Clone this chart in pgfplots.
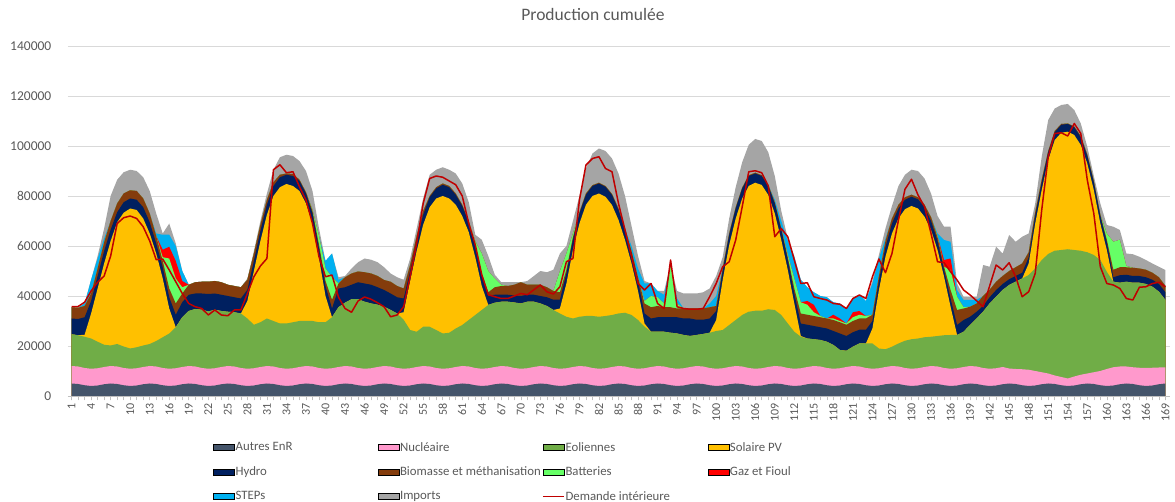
\documentclass[border=0pt]{standalone}
\usepackage{pgfplots}
\usepackage{pgfplotstable}
\pgfplotsset{compat=1.18}
\usepackage{fontspec}
\setmainfont{Carlito}
\definecolor{cA}{HTML}{44546A}
\definecolor{cN}{HTML}{FF99CC}
\definecolor{cW}{HTML}{70AD47}
\definecolor{cS}{HTML}{FFC000}
\definecolor{cH}{HTML}{002060}
\definecolor{cB}{HTML}{843C0C}
\definecolor{cBa}{HTML}{66FF66}
\definecolor{cG}{HTML}{FF0000}
\definecolor{cSt}{HTML}{00B0F0}
\definecolor{cI}{HTML}{A5A5A5}
\definecolor{cD}{HTML}{C00000}
\definecolor{cTxt}{HTML}{595959}
\definecolor{cGrid}{HTML}{D9D9D9}
\definecolor{cAx}{HTML}{BFBFBF}
% cumulative tops of each layer (MW)
\pgfplotstableread{
h a n w s hy b ba g st im d
1 5000 12000 24700 24700 31000 35500 35500 35500 35500 35500 35700
2 4800 11800 24300 24300 30800 35300 35300 35300 35300 35300 35800
3 4300 11200 23700 24500 31500 36000 36000 36000 37000 37000 37500
4 4000 10900 23000 33000 38000 41000 41000 41000 46500 46500 42000
5 4200 11100 21700 43000 48000 51000 51000 51000 55000 56000 45500
6 4700 11600 20500 53000 58000 61500 61500 61500 63000 67000 48000
7 5000 12000 20200 62000 66500 70000 70000 70000 70000 80000 56000
8 4800 11800 20800 69500 73500 77000 77000 77000 77000 86500 69000
9 4300 11200 19800 73300 77500 81000 81000 81000 81000 89500 71300
10 4000 10900 19000 75000 79000 82300 82300 82300 82300 90500 72000
11 4200 11100 19500 74400 78500 82000 82000 82000 82000 90000 71000
12 4700 11600 20200 71000 75500 79000 79000 79000 79000 87500 67700
13 5000 12000 20800 65000 69500 73000 73000 73000 73000 82000 62000
14 4800 11800 22000 57000 61000 64000 64000 64000 65000 73000 54500
15 4300 11200 23500 47000 51500 54000 55500 58500 64500 65000 54800
16 4000 10900 25000 35000 39500 43000 55000 59700 64500 69000 50400
17 4200 11100 27500 27500 32500 37000 47000 54000 60000 61000 45700
18 4700 11600 31500 31500 37500 41000 43500 46000 50000 50000 41000
19 5000 12000 34000 34000 40500 44500 44500 44500 44500 44500 37000
20 4800 11800 34800 34800 41000 45500 45500 45500 45500 45500 35700
21 4300 11200 34500 34500 41000 45700 45700 45700 45700 45700 35000
22 4000 10900 33800 33800 40800 45700 45700 45700 45700 45700 32400
23 4200 11100 34500 34500 41000 46000 46000 46000 46000 46000 34400
24 4700 11600 34000 34000 40500 45500 45500 45500 45500 45500 32400
25 5000 12000 33700 33700 40000 44500 44500 44500 44500 44500 32100
26 4800 11800 33500 33500 39500 44000 44000 44000 44000 44000 34400
27 4300 11200 33000 33000 39000 43500 43500 43500 43500 43500 34400
28 4000 10900 31000 38000 42500 46500 46500 46500 46500 47000 41000
29 4200 11100 28500 50000 54000 57000 57000 57000 57000 58000 47700
30 4700 11600 29500 62000 66000 68500 68500 68500 68500 70000 52000
31 5000 12000 31000 72500 76500 78500 78500 78500 78500 81000 55000
32 4800 11800 30000 80000 84000 85500 85500 85500 85500 90500 90500
33 4300 11200 29000 83500 87500 88500 88500 88500 88500 95500 92500
34 4000 10900 29000 84800 88500 89000 89000 89000 89000 96500 89300
35 4200 11100 29500 84000 88000 88800 88800 88800 88800 96000 89700
36 4700 11600 30000 82000 86000 86500 86500 86500 86500 94000 83700
37 5000 12000 30000 77000 81000 81500 81500 81500 81500 90000 78400
38 4800 11800 30000 69000 73000 74000 74500 74500 74500 82000 69000
39 4300 11200 29500 55000 59000 60500 64000 64000 64000 67000 55700
40 4000 10900 29500 40000 44000 46000 51000 51000 54000 54000 47700
41 4200 11100 31500 31500 35000 38500 47500 47500 57000 57000 48400
42 4700 11600 35500 35500 43000 45000 45000 45000 46500 47500 39500
43 5000 12000 37300 37300 43500 47500 47500 47500 47500 48000 35000
44 4800 11800 38700 38700 44500 49000 49000 49000 49000 51000 33500
45 4300 11200 38700 38700 45500 49800 49800 49800 49800 53500 38000
46 4000 10900 37700 37700 45000 49500 49500 49500 49500 55000 39600
47 4200 11100 37000 37000 44500 49000 49000 49000 49000 54500 38700
48 4700 11600 36500 36500 43500 48000 48000 48000 48000 53500 37300
49 5000 12000 35700 35700 42400 46400 46400 46400 46400 51500 35700
50 4800 11800 34400 34400 41000 45700 45700 45700 45700 49000 31700
51 4300 11200 33000 33000 39500 44000 44000 44000 44000 47500 32400
52 4000 10900 30500 33500 39000 43000 43000 43000 43000 46500 35700
53 4200 11100 26400 46000 50000 52500 52500 52500 52500 55000 47700
54 4700 11600 25700 58000 62000 64000 64000 64000 64000 67000 61000
55 5000 12000 27700 68500 72500 74000 74000 74000 74000 79000 77000
56 4800 11800 27700 75500 79500 80000 80000 80000 80000 88500 87000
57 4300 11200 26400 79000 83000 83500 83500 83500 83500 90500 88000
58 4000 10900 25000 80000 84500 85000 85000 85000 85000 91500 87500
59 4200 11100 25300 79000 83500 84000 84000 84000 84000 90500 86000
60 4700 11600 27000 76500 80500 81000 81000 81000 81000 89000 84500
61 5000 12000 28400 72000 76000 76500 76500 76500 76500 85000 80000
62 4800 11800 30400 65500 69500 70000 70000 70000 70000 77500 69000
63 4300 11200 32400 55500 59500 60000 62000 62000 62000 64500 60500
64 4000 10900 34400 44000 48000 49000 57000 57000 57000 62500 48500
65 4200 11100 36400 36400 40000 41500 50000 50000 50000 56000 40500
66 4700 11600 37300 37300 40500 43500 47000 47000 47000 48500 39700
67 5000 12000 37700 37700 40500 44000 44500 44500 44500 45500 39000
68 4800 11800 37700 37700 40500 44000 44000 44000 44000 45500 39000
69 4300 11200 37400 37400 40200 44500 44500 44500 44500 45500 40000
70 4000 10900 37000 37000 40000 45500 45500 45500 45500 45500 41000
71 4200 11100 37700 37700 40500 44500 44500 44500 44500 46000 40500
72 4700 11600 37700 37700 40500 44500 44500 44500 44500 48000 42500
73 5000 12000 37000 37000 40000 44500 44500 44500 44500 50000 44400
74 4800 11800 36000 36000 39500 43500 43500 43500 43500 49500 41700
75 4300 11200 34400 34400 38500 42000 42000 42000 42000 50500 40800
76 4000 10900 33000 35000 38500 41500 50000 50000 50000 57000 43700
77 4200 11100 31700 45000 49000 50500 57000 57000 57000 60000 53700
78 4700 11600 31000 58500 62500 63500 65000 65000 65000 70000 55000
79 5000 12000 31700 69000 73000 73500 73500 73500 73500 80000 78400
80 4800 11800 32000 76500 80500 81000 81000 81000 81000 91000 92400
81 4300 11200 32000 80000 84000 84300 84300 84300 84300 97000 95000
82 4000 10900 31700 81000 85000 85300 85300 85300 85300 99000 95700
83 4200 11100 32000 79700 83700 84000 84000 84000 84000 98000 91000
84 4700 11600 32400 76400 80400 80800 80800 80800 80800 95000 89700
85 5000 12000 33000 70400 74400 75000 75000 75000 75000 89000 77000
86 4800 11800 33300 62400 66400 67000 67000 67000 67000 80000 66400
87 4300 11200 32400 53000 57000 58000 58000 58000 60000 68000 55700
88 4000 10900 30400 42000 46000 47500 47500 47500 51000 56000 45000
89 4200 11100 27700 29000 33000 37000 38000 38000 45000 46000 42400
90 4700 11600 25700 25700 31000 35500 40000 40000 45000 45000 45000
91 5000 12000 25700 25700 31500 36000 39500 39500 42000 42000 37000
92 4800 11800 25700 25700 31500 35500 37000 37000 40500 42000 35000
93 4300 11200 25300 25300 31500 35500 52500 52500 52500 52500 54400
94 4000 10900 25000 25000 31500 35000 37000 37000 39000 42000 35700
95 4200 11100 24400 24400 31000 35000 35000 35000 35000 41000 35000
96 4700 11600 24000 24000 31000 35000 35000 35000 35000 41000 34700
97 5000 12000 24400 24400 30500 35000 35000 35000 35000 41000 34700
98 4800 11800 24800 24800 30500 35000 35000 35000 35000 41500 35000
99 4300 11200 25300 25300 31000 35500 35500 35500 37000 43000 39700
100 4000 10900 26000 30400 34000 36000 36000 36000 40000 48000 45000
101 4200 11100 26400 46400 50000 51000 51000 51000 51000 55500 51700
102 4700 11600 28400 60400 64400 65000 65000 65000 65000 71000 53700
103 5000 12000 30400 71000 75000 75500 75500 75500 75500 83500 62400
104 4800 11800 32400 79000 83000 83300 83300 83300 83300 93500 75700
105 4300 11200 33700 84000 88000 88300 88300 88300 88300 100500 89700
106 4000 10900 34100 85300 89000 89300 89300 89300 89300 102800 90100
107 4200 11100 34100 84400 88000 88300 88300 88300 88300 102000 89300
108 4700 11600 34700 80400 84000 84500 84500 84500 84500 97500 84000
109 5000 12000 34400 73000 77000 77500 77500 77500 78500 88000 63700
110 4800 11800 32400 62400 66400 67000 67000 67000 70000 74000 67000
111 4300 11200 29000 50400 54400 55500 56500 56500 62000 63000 63700
112 4000 10900 25700 37000 41000 43000 47000 47000 55500 56000 54400
113 4200 11100 23700 24000 29000 33000 37500 37500 46500 46500 45000
114 4700 11600 23000 23000 28500 32500 36500 38000 43500 43500 45300
115 5000 12000 22700 22700 28000 32000 33500 36500 41500 41500 39700
116 4800 11800 22400 22400 27500 31500 32000 32000 40000 40000 39000
117 4300 11200 21700 21700 27000 31000 31000 31000 39500 39500 38400
118 4000 10900 20400 20400 26000 30400 31000 32500 37500 37500 37000
119 4200 11100 18400 18400 25000 29500 30000 31000 37000 37000 36700
120 4700 11600 18100 18100 24000 28500 29000 29000 35000 35000 35000
121 5000 12000 19700 19700 25500 30000 31500 33500 39000 39000 39000
122 4800 11800 21000 21000 26500 31000 32500 34000 40500 40500 40400
123 4300 11200 21000 21000 26500 31000 32000 32000 38000 38000 39000
124 4000 10900 21000 27000 30000 32500 32500 32500 45000 46000 47700
125 4200 11100 19000 42400 46000 48000 48000 48000 55000 56500 54800
126 4700 11600 18700 55700 59500 62000 62000 62000 63000 67000 49300
127 5000 12000 19700 65000 69000 71000 71000 71000 71000 76000 57000
128 4800 11800 21000 71000 75000 76500 76500 76500 76500 84000 70400
129 4300 11200 22100 74700 78500 79500 79500 79500 79500 88500 82700
130 4000 10900 22700 76000 79700 80500 80500 80500 80500 90500 86700
131 4200 11100 23000 75000 78700 79500 79500 79500 79500 90000 80400
132 4700 11600 23500 71700 75500 76500 76500 76500 76500 87000 75700
133 5000 12000 23700 66400 70000 71500 71500 71500 71500 81000 65000
134 4800 11800 24000 58400 62000 63500 64000 64000 65000 72000 53700
135 4300 11200 24300 47700 50400 51700 51700 54400 62400 67700 53300
136 4000 10900 24400 35700 39000 42400 50400 55000 61700 67700 49700
137 4200 11100 24400 24400 28400 34400 39700 39700 42400 45000 46400
138 4700 11600 25700 25700 30400 35000 35500 35500 38400 39700 42400
139 5000 12000 28400 28400 31700 35700 35700 35700 38400 39500 40400
140 4800 11800 31000 31000 33700 37000 37000 37000 38500 39500 38100
141 4300 11200 33700 33700 36000 40000 40000 40000 40000 52400 35700
142 4000 10900 37000 37000 39500 42500 42500 42500 42500 51700 44000
143 4200 11100 39700 39700 42400 45700 45700 45700 45700 59700 52400
144 4700 11600 42400 42400 44800 48000 48000 48000 48000 57000 50400
145 5000 11000 44400 44400 46700 50000 50000 50000 50000 64400 53300
146 4800 10800 45700 45700 48000 51500 51500 51500 51500 61700 47700
147 4300 10700 47000 47000 49300 53000 53000 53000 53000 63700 39700
148 4000 10500 48400 53000 55500 57500 57500 57500 57500 65000 41700
149 4200 10000 51000 69000 72000 73500 73500 73500 73500 77000 49000
150 4700 9500 54400 82400 85500 86500 86500 86500 86500 95700 74400
151 5000 9000 56800 94400 97500 98000 98000 98000 98000 110400 95700
152 4800 8200 58100 102400 105500 106000 106000 106000 106000 115000 105000
153 4300 7600 58400 105300 108500 108800 108800 108800 108800 116400 105300
154 4000 7000 58700 105700 108800 109000 109000 109000 109000 116800 104000
155 4200 7800 58400 104400 107500 107800 107800 107800 107800 114400 109000
156 4700 8500 58100 100400 103500 104000 104000 104000 104000 109000 105000
157 5000 9000 57500 93000 96000 96500 96500 96500 96500 99700 86400
158 4800 9500 56400 82400 85500 86000 86000 86000 86000 88000 73000
159 4300 10000 54400 69000 72000 72500 72500 72500 72500 77000 51700
160 4000 10800 49700 58400 61500 62500 65000 65000 65000 68400 45000
161 4200 11500 45700 45700 47500 50500 61700 61700 61700 67700 44400
162 4700 11800 45300 45300 48300 51500 62500 62500 62500 66400 43000
163 5000 11800 45700 45700 48500 51500 52000 52000 52000 57000 39000
164 4800 11500 45300 45300 48000 51300 51300 51300 51300 56700 38400
165 4300 11300 45300 45300 48000 51000 51000 51000 51000 55700 43500
166 4000 11200 44800 44800 47500 50500 50500 50500 50500 54400 43700
167 4200 11300 43700 43700 46500 49300 49300 49300 49300 53000 45000
168 4700 11400 41700 41700 44800 47500 47500 47500 47500 51700 45500
169 5000 11400 38400 38400 41500 44000 44000 44000 44000 50400 43700
}\data
\pgfplotsset{
  swatch/.style={legend image code/.code={\fill[##1] (0pt,-3pt) rectangle (21pt,3pt);}},
  dline/.style={legend image code/.code={\draw[##1] (0pt,0pt) -- (21pt,0pt);}},
}
\newcommand{\lw}[1]{\makebox[141pt][l]{#1}}
\begin{document}
\begin{tikzpicture}
\useasboundingbox (-68pt,-106pt) rectangle (1107pt,396pt);
\begin{axis}[
  at={(0pt,0pt)}, anchor=south west,
  scale only axis, width=1102pt, height=350pt,
  xmin=0.45, xmax=169.7, ymin=0, ymax=140000,
  axis x line=bottom, axis y line=left,
  x axis line style={draw=cAx, line width=0.75pt, -},
  y axis line style={draw=none},
  ytick={0,20000,...,140000},
  xtick={1,4,...,169},
  minor xtick={1,...,169},
  tick align=outside,
  major tick length=4.5pt, minor tick length=4.5pt,
  xtick style={draw=cAx, line width=0.6pt},
  ytick style={draw=none},
  ymajorgrids, grid style={draw=cGrid, line width=0.75pt},
  scaled y ticks=false,
  /pgf/number format/.cd, fixed, 1000 sep={}, assume math mode=true, /pgfplots/.cd,
  yticklabel style={font=\fontsize{13.5}{15}\selectfont, text=cTxt, inner sep=1pt, xshift=-11pt},
  xticklabel style={font=\fontsize{12}{14}\selectfont, text=cTxt, rotate=90, anchor=east, inner sep=3pt},
  title={Production cumulée},
  title style={at={(0.4764,1.074)}, anchor=center, font=\fontsize{17.5}{20}\selectfont, text=cTxt, inner sep=0pt},
  legend columns=4,
  legend cell align=left,
  legend style={draw=none, fill=none, at={(axis description cs:0.1316,-0.129)}, anchor=north west,
    font=\fontsize{12.8}{15}\selectfont, text=cTxt, inner sep=0pt, row sep=12pt,
    nodes={inner sep=1pt}},
  clip=true,
]
\addlegendimage{swatch, fill=cA}\addlegendentry{\lw{Autres EnR}}
\addlegendimage{swatch, fill=cN}\addlegendentry{\lw{Nucléaire}}
\addlegendimage{swatch, fill=cW}\addlegendentry{\lw{Eoliennes}}
\addlegendimage{swatch, fill=cS}\addlegendentry{\lw{Solaire PV}}
\addlegendimage{swatch, fill=cH}\addlegendentry{\lw{Hydro}}
\addlegendimage{swatch, fill=cB}\addlegendentry{\lw{Biomasse et méthanisation}}
\addlegendimage{swatch, fill=cBa}\addlegendentry{\lw{Batteries}}
\addlegendimage{swatch, fill=cG}\addlegendentry{\lw{Gaz et Fioul}}
\addlegendimage{swatch, fill=cSt}\addlegendentry{\lw{STEPs}}
\addlegendimage{swatch, fill=cI}\addlegendentry{\lw{Imports}}
\addlegendimage{dline, draw=cD, line width=1.5pt}\addlegendentry{\lw{Demande intérieure}}
\addplot[fill=cI, draw=none, forget plot] table[x=h, y=im] {\data} \closedcycle;
\addplot[fill=cSt, draw=none, forget plot] table[x=h, y=st] {\data} \closedcycle;
\addplot[fill=cG, draw=none, forget plot] table[x=h, y=g] {\data} \closedcycle;
\addplot[fill=cBa, draw=none, forget plot] table[x=h, y=ba] {\data} \closedcycle;
\addplot[fill=cB, draw=none, forget plot] table[x=h, y=b] {\data} \closedcycle;
\addplot[fill=cH, draw=none, forget plot] table[x=h, y=hy] {\data} \closedcycle;
\addplot[fill=cS, draw=none, forget plot] table[x=h, y=s] {\data} \closedcycle;
\addplot[fill=cW, draw=none, forget plot] table[x=h, y=w] {\data} \closedcycle;
\addplot[fill=cN, draw=none, forget plot] table[x=h, y=n] {\data} \closedcycle;
\addplot[fill=cA, draw=none, forget plot] table[x=h, y=a] {\data} \closedcycle;
\addplot[draw=cD, line width=1.5pt, line join=round, forget plot] table[x=h, y=d] {\data};
\end{axis}
\end{tikzpicture}
\end{document}
